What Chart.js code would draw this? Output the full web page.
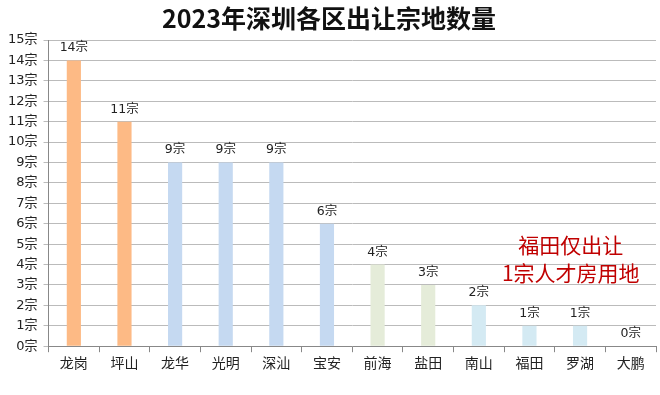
<!DOCTYPE html>
<html>
<head>
<meta charset="utf-8">
<script src="https://cdn.jsdelivr.net/npm/chart.js@4"></script>
<style>
  html, body { margin: 0; padding: 0; background: #fff; }
  #wrap { width: 660px; height: 395px; }
</style>
</head>
<body>
<div id="wrap"><canvas id="chart" width="660" height="395"></canvas></div>
<script>
// data
const districts = ['龙岗', '坪山', '龙华', '光明', '深汕', '宝安', '前海', '盐田', '南山', '福田', '罗湖', '大鹏'];
const plots = [14, 11, 9, 9, 9, 6, 4, 3, 2, 1, 1, 0];
const barColors = ['#FDBA85', '#FDBA85', '#C5D9F1', '#C5D9F1', '#C5D9F1', '#C5D9F1',
                   '#E5ECD9', '#E5ECD9', '#D4EAF3', '#D4EAF3', '#D4EAF3', '#D4EAF3'];
const unit = '宗';
const noteLines = ['福田仅出让', '1宗人才房用地'];

const cjk = '"Noto Sans CJK SC", "Noto Sans", sans-serif';
const num = '"DejaVu Sans", "Noto Sans CJK SC", sans-serif';

// draws "N宗" above each bar
const valueLabels = {
    id: 'valueLabels',
    afterDatasetsDraw(chart) {
        const ctx = chart.ctx;
        const meta = chart.getDatasetMeta(0);
        ctx.save();
        ctx.font = '12.5px ' + num;
        ctx.fillStyle = '#222';
        ctx.textAlign = 'center';
        ctx.textBaseline = 'bottom';
        meta.data.forEach(function (bar, i) {
            ctx.fillText(plots[i] + unit, bar.x, bar.y - 6);
        });
        ctx.restore();
    }
};

// red note at the right side
const note = {
    id: 'note',
    afterDraw(chart) {
        const ctx = chart.ctx;
        const x = chart.scales.x;
        const y = chart.scales.y;
        const cx = (x.getPixelForValue(9) + x.getPixelForValue(10)) / 2 + 16;
        ctx.save();
        ctx.font = '21px ' + cjk;
        ctx.fillStyle = '#C00000';
        ctx.textAlign = 'center';
        ctx.textBaseline = 'middle';
        ctx.fillText(noteLines[0], cx, y.getPixelForValue(4.95));
        ctx.fillText(noteLines[1], cx, y.getPixelForValue(3.6));
        ctx.restore();
    }
};

var ctx = document.getElementById('chart').getContext('2d');
var mychart = new Chart(ctx, {
    type: 'bar',
    data: {
        labels: districts,
        datasets: [{
            data: plots,
            backgroundColor: barColors,
            borderWidth: 0,
            categoryPercentage: 1,
            barPercentage: 0.28
        }]
    },
    options: {
        responsive: false,
        animation: false,
        layout: { padding: { left: 2, right: 4, top: 0, bottom: 22 } },
        plugins: {
            legend: { display: false },
            tooltip: { enabled: false },
            title: {
                display: true,
                text: '2023年深圳各区出让宗地数量',
                color: '#111',
                font: { family: cjk, size: 25, weight: 'bold' },
                padding: { top: 3, bottom: 7 }
            }
        },
        scales: {
            x: {
                grid: { drawOnChartArea: false, drawTicks: true, tickLength: 6, color: '#888' },
                border: { color: '#888' },
                ticks: { color: '#222', font: { family: cjk, size: 14 }, padding: 2 }
            },
            y: {
                min: 0,
                max: 15,
                grid: { color: '#bbb', tickLength: 5 },
                border: { color: '#888' },
                ticks: {
                    stepSize: 1,
                    color: '#222',
                    padding: 6,
                    font: { family: num, size: 13 },
                    callback: function (v) { return v + unit; }
                }
            }
        }
    },
    plugins: [valueLabels, note]
});
</script>
</body>
</html>
